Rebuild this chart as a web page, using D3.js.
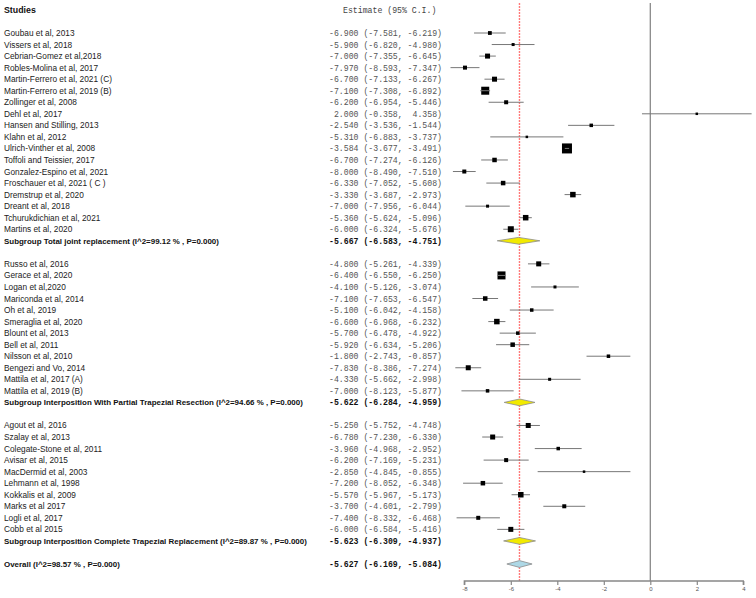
<!DOCTYPE html>
<html>
<head>
<meta charset="utf-8">
<script src="https://cdn.jsdelivr.net/npm/d3@7"></script>
<style>
  body { margin: 0; background: #fff; }
  svg { display: block; }
  .lbl { font-family: "Liberation Sans", Arial, sans-serif; font-size: 8.3px; fill: #222; }
  .lbl.bold { font-size: 7.95px; }
  .lbl.head { font-size: 8.8px; }
  .mono { font-family: "Liberation Mono", "Courier New", monospace; font-size: 8.2px; fill: #555; white-space: pre; }
  .bold { font-weight: bold; fill: #111; }
</style>
</head>
<body>
<svg id="chart"></svg>
<script>
// forest plot: rows in display order; type "s" study, "g" subgroup, "o" overall, "" blank
const labels = [
  "Goubau et al, 2013", "Vissers et al, 2018", "Cebrian-Gomez et al,2018", "Robles-Molina et al, 2017",
  "Martin-Ferrero et al, 2021 (C)", "Martin-Ferrero et al, 2019 (B)", "Zollinger et al, 2008", "Dehl et al, 2017",
  "Hansen and Stilling, 2013", "Klahn et al, 2012", "Ulrich-Vinther et al, 2008", "Toffoli and Teissier, 2017",
  "Gonzalez-Espino et al, 2021", "Froschauer et al, 2021 ( C )", "Dremstrup et al, 2020", "Dreant et al, 2018",
  "Tchurukdichian et al, 2021", "Martins et al, 2020",
  "Subgroup Total joint replacement (I^2=99.12 % , P=0.000)", "",
  "Russo et al, 2016", "Gerace et al, 2020", "Logan et al,2020", "Mariconda et al, 2014", "Oh et al, 2019",
  "Smeraglia et al, 2020", "Blount et al, 2013", "Bell et al, 2011", "Nilsson et al, 2010", "Bengezi and Vo, 2014",
  "Mattila et al, 2017 (A)", "Mattila et al, 2019 (B)",
  "Subgroup Interposition With Partial Trapezial Resection (I^2=94.66 % , P=0.000)", "",
  "Agout et al, 2016", "Szalay et al, 2013", "Colegate-Stone et al, 2011", "Avisar et al, 2015",
  "MacDermid et al, 2003", "Lehmann et al, 1998", "Kokkalis et al, 2009", "Marks et al 2017", "Logli et al, 2017",
  "Cobb et al 2015",
  "Subgroup Interposition Complete Trapezial Replacement (I^2=89.87 % , P=0.000)", "",
  "Overall (I^2=98.57 % , P=0.000)"
];
const rowType = [
  "s","s","s","s","s","s","s","s","s","s","s","s","s","s","s","s","s","s","g","",
  "s","s","s","s","s","s","s","s","s","s","s","s","g","",
  "s","s","s","s","s","s","s","s","s","s","g","",
  "o"
];
const estimate = [
  -6.900, -5.900, -7.000, -7.970, -6.700, -7.100, -6.200, 2.000, -2.540, -5.310, -3.584, -6.700,
  -8.000, -6.330, -3.330, -7.000, -5.360, -6.000, -5.667, null,
  -4.800, -6.400, -4.100, -7.100, -5.100, -6.600, -5.700, -5.920, -1.800, -7.830, -4.330, -7.000, -5.622, null,
  -5.250, -6.780, -3.960, -6.200, -2.850, -7.200, -5.570, -3.700, -7.400, -6.000, -5.623, null,
  -5.627
];
const lower = [
  -7.581, -6.820, -7.355, -8.593, -7.133, -7.308, -6.954, -0.358, -3.536, -6.883, -3.677, -7.274,
  -8.490, -7.052, -3.687, -7.956, -5.624, -6.324, -6.583, null,
  -5.261, -6.550, -5.126, -7.653, -6.042, -6.968, -6.478, -6.634, -2.743, -8.386, -5.662, -8.123, -6.284, null,
  -5.752, -7.230, -4.968, -7.169, -4.845, -8.052, -5.967, -4.601, -8.332, -6.584, -6.309, null,
  -6.169
];
const upper = [
  -6.219, -4.980, -6.645, -7.347, -6.267, -6.892, -5.446, 4.358, -1.544, -3.737, -3.491, -6.126,
  -7.510, -5.608, -2.973, -6.044, -5.096, -5.676, -4.751, null,
  -4.339, -6.250, -3.074, -6.547, -4.158, -6.232, -4.922, -5.206, -0.857, -7.274, -2.998, -5.877, -4.959, null,
  -4.748, -6.330, -2.952, -5.231, -0.855, -6.348, -5.173, -2.799, -6.468, -5.416, -4.937, null,
  -5.084
];
// relative study weight
const weight = [
  3.8, 3.0, 5.0, 4.0, 5.0, 8.0, 4.0, 2.5, 3.5, 2.5, 10.0, 4.5,
  4.0, 4.5, 5.5, 3.0, 5.5, 6.0, 0, 0,
  5.0, 8.0, 3.0, 4.5, 3.5, 5.5, 3.5, 4.5, 3.5, 5.0, 3.0, 3.5, 0, 0,
  5.0, 5.0, 3.5, 4.0, 2.5, 4.5, 5.5, 4.0, 4.0, 5.0, 0, 0,
  0
];
const xTicks = [-8, -6, -4, -2, 0, 2, 4];
const overallEst = -5.627;

const W = 756, H = 598;
const svg = d3.select("#chart").attr("width", W).attr("height", H);

const y = d3.scaleLinear().domain([0, labels.length - 1]).range([33, 564]);
const x = d3.scaleLinear().domain([-8, 4]).range([464.3, 743.3]);
const size = d3.scaleLinear().domain([0, 10]).range([0, 10]);
const axisY = 581, topY = 3;

const fmt = v => d3.format(".3f")(v).replace("\u2212", "-").padStart(6, " ");

// headers
svg.append("text").attr("class", "lbl bold head").attr("x", 4).attr("y", 13).text("Studies");
svg.append("text").attr("class", "mono").attr("x", 343).attr("y", 13)
  .style("fill", "#444").text("Estimate (95% C.I.)");

const rows = labels.map((l, i) => ({ i, label: l, type: rowType[i], est: estimate[i], lo: lower[i], hi: upper[i], w: weight[i] }));
const filled = rows.filter(d => d.type !== "");

// labels + estimates
svg.selectAll("text.study").data(filled).join("text")
  .attr("class", d => d.type === "s" ? "lbl" : "lbl bold")
  .attr("x", 4).attr("y", d => y(d.i) + 3)
  .text(d => d.label);

svg.selectAll("text.est").data(filled).join("text")
  .attr("class", d => d.type === "s" ? "mono" : "mono bold")
  .attr("x", 329).attr("y", d => y(d.i) + 3)
  .text(d => `${fmt(d.est)} (${fmt(d.lo)}, ${fmt(d.hi)})`);

// zero line
svg.append("line").attr("x1", x(0)).attr("x2", x(0)).attr("y1", topY).attr("y2", axisY)
  .attr("stroke", "#8a8a8a").attr("stroke-width", 1.3);

// overall effect line
const xo = x(overallEst);
svg.append("line").attr("x1", xo).attr("x2", xo).attr("y1", topY).attr("y2", axisY)
  .attr("stroke", "#ff7a7a").attr("stroke-width", 1.4).attr("stroke-dasharray", "2,1");

const studies = rows.filter(d => d.type === "s");

svg.selectAll("line.ci").data(studies).join("line")
  .attr("x1", d => x(d.lo)).attr("x2", d => x(d.hi))
  .attr("y1", d => y(d.i)).attr("y2", d => y(d.i))
  .attr("stroke", "#777").attr("stroke-width", 1);

svg.selectAll("rect.box").data(studies).join("rect")
  .attr("x", d => x(d.est) - size(d.w) / 2).attr("y", d => y(d.i) - size(d.w) / 2)
  .attr("width", d => size(d.w)).attr("height", d => size(d.w))
  .attr("fill", "#000");

// narrow intervals show through the large boxes
svg.selectAll("line.inner").data(studies.filter(d => size(d.w) >= 8)).join("line")
  .attr("x1", d => x(d.lo)).attr("x2", d => x(d.hi))
  .attr("y1", d => y(d.i)).attr("y2", d => y(d.i))
  .attr("stroke", "#999").attr("stroke-width", 0.8);

// diamonds
const pooled = rows.filter(d => d.type === "g" || d.type === "o");
svg.selectAll("path.dia").data(pooled).join("path")
  .attr("d", d => {
    const cy = y(d.i), h = 3.4;
    return `M${x(d.lo)},${cy}L${x(d.est)},${cy - h}L${x(d.hi)},${cy}L${x(d.est)},${cy + h}Z`;
  })
  .attr("fill", d => d.type === "o" ? "#add8e6" : "#f2ea00")
  .attr("stroke", "#8c8c8c").attr("stroke-width", 0.8);

// axis
const axis = d3.axisBottom(x).tickValues(xTicks).tickSize(4).tickFormat(d => String(d).replace("\u2212", "-"));
const ag = svg.append("g").attr("transform", `translate(0,${axisY})`).call(axis);
ag.select(".domain").attr("stroke", "#888").attr("stroke-width", 1.3).attr("d", `M${x(-8)},4V0H${x(4)}V4`);
ag.selectAll(".tick line").attr("stroke", "#888").attr("stroke-width", 1.2);
ag.selectAll(".tick text").attr("fill", "#555").attr("font-size", "6px")
  .attr("font-family", "Liberation Sans, Arial, sans-serif").attr("dy", "0.9em").attr("y", 5);
</script>
</body>
</html>
